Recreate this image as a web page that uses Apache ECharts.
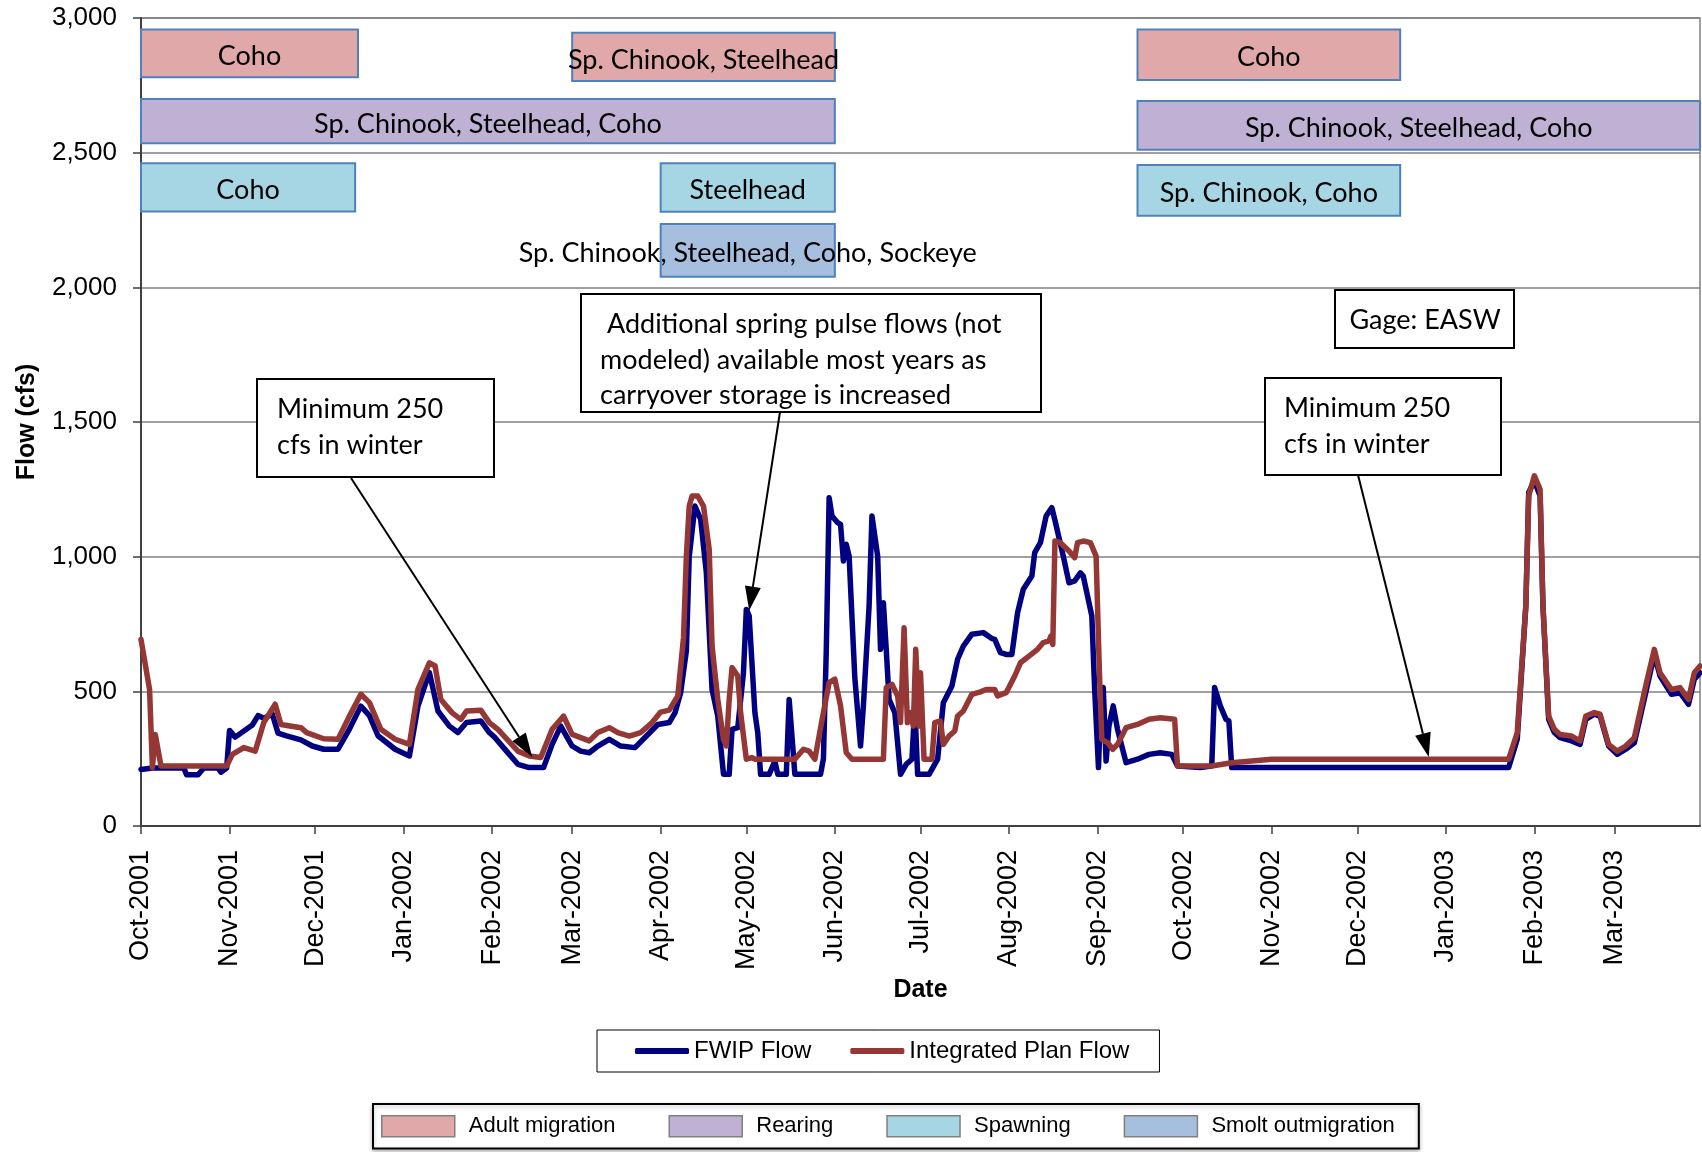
<!DOCTYPE html>
<html><head><meta charset="utf-8">
<script src="https://cdn.jsdelivr.net/npm/echarts@6/dist/echarts.min.js"></script>
<style>html,body{margin:0;padding:0;background:#fff}#c{width:1702px;height:1152px}</style>
</head><body><div id="c"></div>
<script>
// ---------------- DATA ----------------
const fwipFlow = [
['2001-10-01',210],['2001-10-05',215],['2001-10-16',215],['2001-10-17',190],['2001-10-21',190],['2001-10-23',215],['2001-10-28',215],['2001-10-29',200],['2001-10-31',215],
['2001-11-01',355],['2001-11-03',330],['2001-11-09',375],['2001-11-11',410],['2001-11-13',400],['2001-11-16',415],['2001-11-18',345],['2001-11-21',335],['2001-11-26',320],['2001-11-30',297],
['2001-12-04',285],['2001-12-09',285],['2001-12-13',360],['2001-12-17',445],['2001-12-20',410],['2001-12-23',335],['2001-12-29',285],
['2002-01-03',260],['2002-01-06',445],['2002-01-10',570],['2002-01-13',427],['2002-01-17',371],['2002-01-20',347],['2002-01-23',384],['2002-01-28',390],['2002-01-31',347],
['2002-02-02',328],['2002-02-06',278],['2002-02-10',229],['2002-02-14',217],['2002-02-19',217],['2002-02-22',303],['2002-02-25',371],
['2002-03-01',297],['2002-03-04',278],['2002-03-07',272],['2002-03-10',297],['2002-03-14',322],['2002-03-18',297],['2002-03-23',291],['2002-03-27',334],['2002-03-31',377],
['2002-04-04',384],['2002-04-06',420],['2002-04-08',495],['2002-04-10',650],['2002-04-11',1000],['2002-04-13',1188],['2002-04-15',1139],['2002-04-17',940],['2002-04-19',507],['2002-04-21',408],['2002-04-23',192],['2002-04-25',192],['2002-04-26',359],['2002-04-28',365],['2002-04-30',569],
['2002-05-01',804],['2002-05-02',780],['2002-05-04',421],['2002-05-05',347],['2002-05-06',192],['2002-05-09',192],['2002-05-11',241],['2002-05-12',192],['2002-05-15',192],['2002-05-16',470],['2002-05-18',192],['2002-05-27',192],['2002-05-28',250],['2002-05-29',650],['2002-05-30',1219],['2002-05-31',1151],
['2002-06-02',1126],['2002-06-03',1120],['2002-06-04',984],['2002-06-05',1046],['2002-06-06',1002],['2002-06-08',550],['2002-06-10',297],['2002-06-11',446],['2002-06-13',817],['2002-06-14',1151],['2002-06-16',1002],['2002-06-17',656],['2002-06-18',829],['2002-06-19',656],['2002-06-20',470],['2002-06-22',421],['2002-06-24',192],['2002-06-26',229],['2002-06-28',248],['2002-06-29',446],['2002-06-30',192],
['2002-07-04',192],['2002-07-07',248],['2002-07-09',458],['2002-07-12',520],['2002-07-14',619],['2002-07-16',668],['2002-07-19',712],['2002-07-23',718],['2002-07-26',696],['2002-07-27',693],['2002-07-29',644],['2002-07-31',637],
['2002-08-02',637],['2002-08-04',792],['2002-08-06',879],['2002-08-09',928],['2002-08-10',1015],['2002-08-12',1052],['2002-08-14',1151],['2002-08-16',1182],['2002-08-17',1139],['2002-08-20',1002],['2002-08-22',903],['2002-08-24',910],['2002-08-26',940],['2002-08-27',928],['2002-08-30',780],['2002-08-31',507],
['2002-09-01 08:00',217],['2002-09-02',421],['2002-09-03',514],['2002-09-04',241],['2002-09-05',371],['2002-09-06 12:00',446],['2002-09-08',359],['2002-09-11',235],['2002-09-15',248],['2002-09-19',266],['2002-09-23',272],['2002-09-27',266],['2002-09-29',223],
['2002-10-07',217],['2002-10-11',223],['2002-10-12',514],['2002-10-14',446],['2002-10-15',421],['2002-10-16',396],['2002-10-17',390],['2002-10-18',217],
['2003-01-23',217],['2003-01-26',322],['2003-01-29',817],['2003-01-30',1238],['2003-02-01',1281],['2003-02-03',1225],['2003-02-04',817],['2003-02-06',396],['2003-02-08',347],['2003-02-10',328],['2003-02-14',316],['2003-02-17',303],['2003-02-19',396],['2003-02-22',415],['2003-02-24',408],['2003-02-27',297],
['2003-03-02',266],['2003-03-05',285],['2003-03-08',309],['2003-03-12',495],['2003-03-15',637],['2003-03-17',557],['2003-03-21',489],['2003-03-24',495],['2003-03-27',452],['2003-03-29',545],['2003-03-31',569]
];

const integratedFlow = [
['2001-10-01',693],['2001-10-04',507],['2001-10-05',217],['2001-10-06',340],['2001-10-08',223],['2001-10-31',223],
['2001-11-02',266],['2001-11-06',291],['2001-11-10',278],['2001-11-13',384],['2001-11-17',452],['2001-11-19',377],['2001-11-26',365],['2001-11-28',347],
['2001-12-04',324],['2001-12-09',322],['2001-12-13',408],['2001-12-17',489],['2001-12-20',458],['2001-12-24',359],['2001-12-29',322],
['2002-01-03',303],['2002-01-06',507],['2002-01-10',606],['2002-01-12',594],['2002-01-14',470],['2002-01-18',420],['2002-01-21',396],['2002-01-23',427],['2002-01-28',430],['2002-01-31',384],
['2002-02-03',359],['2002-02-10',278],['2002-02-14',260],['2002-02-18',254],['2002-02-22',359],['2002-02-26',408],
['2002-03-01',340],['2002-03-07',316],['2002-03-10',347],['2002-03-14',365],['2002-03-17',347],['2002-03-21',334],['2002-03-25',347],['2002-03-29',384],
['2002-04-01',423],['2002-04-04',430],['2002-04-07',483],['2002-04-09',700],['2002-04-10',1002],['2002-04-11',1188],['2002-04-12',1225],['2002-04-14',1225],['2002-04-16',1188],['2002-04-18',1027],['2002-04-19',668],['2002-04-21',470],['2002-04-23',322],['2002-04-24',297],['2002-04-25',470],['2002-04-26',588],['2002-04-28',557],['2002-04-29',421],
['2002-05-01',248],['2002-05-03',254],['2002-05-04',248],['2002-05-18',248],['2002-05-21',285],['2002-05-23',278],['2002-05-25',248],['2002-05-28',421],['2002-05-30',532],
['2002-06-01',545],['2002-06-03',446],['2002-06-05',272],['2002-06-07',248],['2002-06-18',248],['2002-06-19',514],['2002-06-21',526],['2002-06-23',483],['2002-06-24',384],['2002-06-25 06:00',736],['2002-06-26 10:00',384],['2002-06-27 12:00',421],['2002-06-28 12:00',371],['2002-06-29 08:00',656],['2002-06-30 12:00',371],
['2002-07-01',569],['2002-07-02 06:00',248],['2002-07-05',248],['2002-07-06',384],['2002-07-08',390],['2002-07-09',303],['2002-07-11',334],['2002-07-13',353],['2002-07-14',408],['2002-07-16',427],['2002-07-19',489],['2002-07-22',498],['2002-07-24',507],['2002-07-27',507],['2002-07-28',483],['2002-07-31',495],
['2002-08-03',557],['2002-08-05',606],['2002-08-08',631],['2002-08-11',656],['2002-08-13',681],['2002-08-15',687],['2002-08-15 16:00',705],['2002-08-16 08:00',674],['2002-08-17 02:00',1058],['2002-08-19',1052],['2002-08-22',1021],['2002-08-24',996],['2002-08-25',1052],['2002-08-27',1058],['2002-08-29 12:00',1052],['2002-08-31 12:00',1002],
['2002-09-01 16:00',569],['2002-09-02 12:00',322],['2002-09-04 14:00',309],['2002-09-06 08:00',285],['2002-09-08',303],['2002-09-11',365],['2002-09-15',377],['2002-09-19',396],['2002-09-23',402],['2002-09-28',396],['2002-09-29',223],
['2002-10-11',223],['2002-10-18',235],['2002-11-01',248],
['2003-01-23',248],['2003-01-26',347],['2003-01-29',817],['2003-01-30',1225],['2003-02-01',1300],['2003-02-03',1250],['2003-02-04',817],['2003-02-06',408],['2003-02-08',359],['2003-02-10',340],['2003-02-14',334],['2003-02-17',316],['2003-02-19',408],['2003-02-22',421],['2003-02-24',415],['2003-02-27',303],
['2003-03-02',278],['2003-03-05',297],['2003-03-08',328],['2003-03-12',520],['2003-03-15',656],['2003-03-17',569],['2003-03-21',507],['2003-03-24',514],['2003-03-27',470],['2003-03-29',569],['2003-03-31',594]
];

const seriesNames = ['FWIP Flow', 'Integrated Plan Flow'];
const habitatNames = ['Adult migration', 'Rearing', 'Spawning', 'Smolt outmigration'];

const tickMonths = ['2001-10-01','2001-11-01','2001-12-01','2002-01-01','2002-02-01','2002-03-01','2002-04-01','2002-05-01','2002-06-01','2002-07-01','2002-08-01','2002-09-01','2002-10-01','2002-11-01','2002-12-01','2003-01-01','2003-02-01','2003-03-01'];
const tickLabels = ['Oct-2001','Nov-2001','Dec-2001','Jan-2002','Feb-2002','Mar-2002','Apr-2002','May-2002','Jun-2002','Jul-2002','Aug-2002','Sep-2002','Oct-2002','Nov-2002','Dec-2002','Jan-2003','Feb-2003','Mar-2003'];
const yTicks = [0, 500, 1000, 1500, 2000, 2500, 3000];

// habitat periods: [start, end], flow band [low, high], species text
const adultPeriods = [['2001-10-01','2001-12-16'], ['2002-03-01','2002-06-01'], ['2002-09-15','2002-12-16']];
const adultBands = [[2780, 2957], [2766, 2945], [2770, 2957]];
const adultSpecies = ['Coho', 'Sp. Chinook, Steelhead', 'Coho'];

const rearingPeriods = [['2001-10-01','2002-06-01'], ['2002-09-15','2003-03-31']];
const rearingBands = [[2535, 2699], [2511, 2692]];
const rearingSpecies = ['Sp. Chinook, Steelhead, Coho', 'Sp. Chinook, Steelhead, Coho'];

const spawningPeriods = [['2001-10-01','2001-12-15'], ['2002-04-01','2002-06-01'], ['2002-09-15','2002-12-16']];
const spawningBands = [[2282, 2461], [2281, 2461], [2266, 2454]];
const spawningSpecies = ['Coho', 'Steelhead', 'Sp. Chinook, Coho'];

const smoltPeriods = [['2002-04-01','2002-06-01']];
const smoltBands = [[2039, 2235]];
const smoltSpecies = ['Sp. Chinook, Steelhead, Coho, Sockeye'];

const noteTexts = ['Minimum 250\ncfs in winter', ' Additional spring pulse flows (not\nmodeled) available most years as\ncarryover storage is increased', 'Gage: EASW', 'Minimum 250\ncfs in winter'];
const arrowTips = [['2002-02-15', 256], ['2002-05-02', 800], ['2002-12-26', 256]];

// ---------------- CHART ----------------
const chart = echarts.init(document.getElementById('c'), null, {renderer: 'canvas'});
const parseT = s => echarts.time.parse(s).getTime();
const labelByKey = {};
tickMonths.forEach((m, i) => { labelByKey[m.slice(0, 7)] = tickLabels[i]; });
const DAY = 86400000;

function monthLabel(v) {
  const d = new Date(v);
  const key = d.getFullYear() + '-' + String(d.getMonth() + 1).padStart(2, '0');
  return d.getDate() === 1 ? (labelByKey[key] || '') : '';
}

const calibri = 'Lato';
function areas(periods, bands, texts) {
  return periods.map((p, i) => [
    {name: texts[i], xAxis: p[0], yAxis: bands[i][0]},
    {xAxis: p[1], yAxis: bands[i][1]}
  ]);
}
function habitatSeries(name, color, periods, bands, texts) {
  return {
    name: name, type: 'line', data: [], symbol: 'none',
    itemStyle: {color: color}, lineStyle: {color: color},
    markArea: {
      silent: true,
      itemStyle: {color: color, borderColor: '#4F81BD', borderWidth: 2},
      label: {show: true, position: 'inside', offset: [0, 3], color: '#000', fontFamily: calibri, fontSize: 27},
      emphasis: {disabled: true},
      data: areas(periods, bands, texts)
    }
  };
}

const option = {
  animation: false,
  backgroundColor: '#fff',
  grid: {left: 141, right: 2, top: 18, bottom: 326, show: true, borderColor: '#808080', borderWidth: 1.5},
  xAxis: {
    type: 'time',
    min: '2001-10-01', max: '2003-03-31',
    minInterval: 28 * DAY, maxInterval: 31 * DAY,
    name: 'Date', nameLocation: 'middle', nameGap: 148,
    nameTextStyle: {fontFamily: 'Liberation Sans', fontWeight: 'bold', fontSize: 25, color: '#000'},
    axisLine: {show: true, lineStyle: {color: '#404040', width: 2}},
    axisTick: {show: true, length: 8, lineStyle: {color: '#404040', width: 1.5}},
    axisLabel: {
      rotate: 90, margin: 24, fontFamily: 'Liberation Sans', fontSize: 27, color: '#000',
      hideOverlap: false, showMinLabel: true, showMaxLabel: false,
      formatter: v => monthLabel(v)
    },
    splitLine: {show: false}
  },
  yAxis: {
    type: 'value', min: 0, max: 3000, interval: 500,
    name: 'Flow (cfs)', nameLocation: 'middle', nameGap: 101, nameRotate: 90,
    nameTextStyle: {fontFamily: 'Liberation Sans', fontWeight: 'bold', fontSize: 25, color: '#000'},
    axisLine: {show: true, lineStyle: {color: '#404040', width: 2}},
    axisTick: {show: true, length: 8, lineStyle: {color: '#404040', width: 1.5}},
    axisLabel: {margin: 24, fontFamily: 'Liberation Sans', fontSize: 26, color: '#000',
      formatter: v => yTicks.includes(v) ? v.toLocaleString('en-US') : ''},
    splitLine: {show: true, lineStyle: {color: '#808080', width: 1.5}}
  },
  legend: [
    {
      data: seriesNames, left: 597, top: 1030, orient: 'horizontal', icon: 'roundRect',
      padding: [8, 30, 8, 38], itemGap: 39, itemWidth: 54, itemHeight: 6,
      borderColor: '#000', borderWidth: 1, backgroundColor: '#fff',
      textStyle: {fontFamily: 'Liberation Sans', fontSize: 24, color: '#000', lineHeight: 26},
      selectedMode: false
    },
    {
      data: habitatNames, left: 373, top: 1104, orient: 'horizontal', icon: 'rect',
      padding: [11, 24, 11, 8], itemGap: 53, itemWidth: 73, itemHeight: 21,
      borderColor: '#000', borderWidth: 2, backgroundColor: '#fff',
      shadowColor: 'rgba(0,0,0,0.25)', shadowBlur: 4, shadowOffsetY: 2,
      itemStyle: {borderColor: '#808080', borderWidth: 1.5},
      textStyle: {fontFamily: 'Liberation Sans', fontSize: 22, color: '#000', padding: [0, 0, 0, 9]},
      selectedMode: false
    }
  ],
  series: [
    habitatSeries(habitatNames[0], '#E0A8A8', adultPeriods, adultBands, adultSpecies),
    habitatSeries(habitatNames[1], '#BFB1D3', rearingPeriods, rearingBands, rearingSpecies),
    habitatSeries(habitatNames[2], '#A6D6E3', spawningPeriods, spawningBands, spawningSpecies),
    habitatSeries(habitatNames[3], '#A7BFDF', smoltPeriods, smoltBands, smoltSpecies),
    {name: seriesNames[0], type: 'line', data: fwipFlow, symbol: 'none', showSymbol: false,
     itemStyle: {color: '#000080'}, lineStyle: {color: '#000080', width: 5.5, join: 'round', cap: 'round'}, z: 3},
    {name: seriesNames[1], type: 'line', data: integratedFlow, symbol: 'none', showSymbol: false,
     itemStyle: {color: '#953735'}, lineStyle: {color: '#953735', width: 5.5, join: 'round', cap: 'round'}, z: 4}
  ]
};
chart.setOption(option);

// ---------------- ANNOTATIONS ----------------
function box(x, y, w, h, text, tx, ty, align) {
  return {
    type: 'group', z: 100,
    children: [
      {type: 'rect', shape: {x: x, y: y, width: w, height: h}, style: {fill: '#fff', stroke: '#000', lineWidth: 2}},
      {type: 'text', style: {text: text, x: tx, y: ty, font: '27px ' + calibri, fill: '#000',
        lineHeight: 35.5, align: align || 'left', verticalAlign: 'top'}}
    ]
  };
}
function arrow(x1, y1, tip) {
  const p = chart.convertToPixel({gridIndex: 0}, [parseT(tip[0]), tip[1]]);
  const x2 = p[0], y2 = p[1];
  const dx = x2 - x1, dy = y2 - y1, L = Math.hypot(dx, dy);
  const ux = dx / L, uy = dy / L, hl = 24, hw = 8;
  const bx = x2 - ux * hl, by = y2 - uy * hl, px = -uy, py = ux;
  return [
    {type: 'line', z: 101, shape: {x1: x1, y1: y1, x2: bx, y2: by}, style: {stroke: '#000', lineWidth: 2}},
    {type: 'polygon', z: 101, shape: {points: [[x2, y2], [bx + px * hw, by + py * hw], [bx - px * hw, by - py * hw]]}, style: {fill: '#000'}}
  ];
}
const graphics = [
  box(257, 379, 237, 98, noteTexts[0], 277, 392),
  box(581, 294, 460, 118, noteTexts[1], 600, 307),
  box(1335, 290, 179, 58, noteTexts[2], 1425, 303, 'center'),
  box(1265, 378, 236, 97, noteTexts[3], 1284, 391)
].concat(arrow(351, 478, arrowTips[0]), arrow(780, 412, arrowTips[1]), arrow(1358, 475, arrowTips[2]));
chart.setOption({graphic: graphics});
</script>
</body></html>
